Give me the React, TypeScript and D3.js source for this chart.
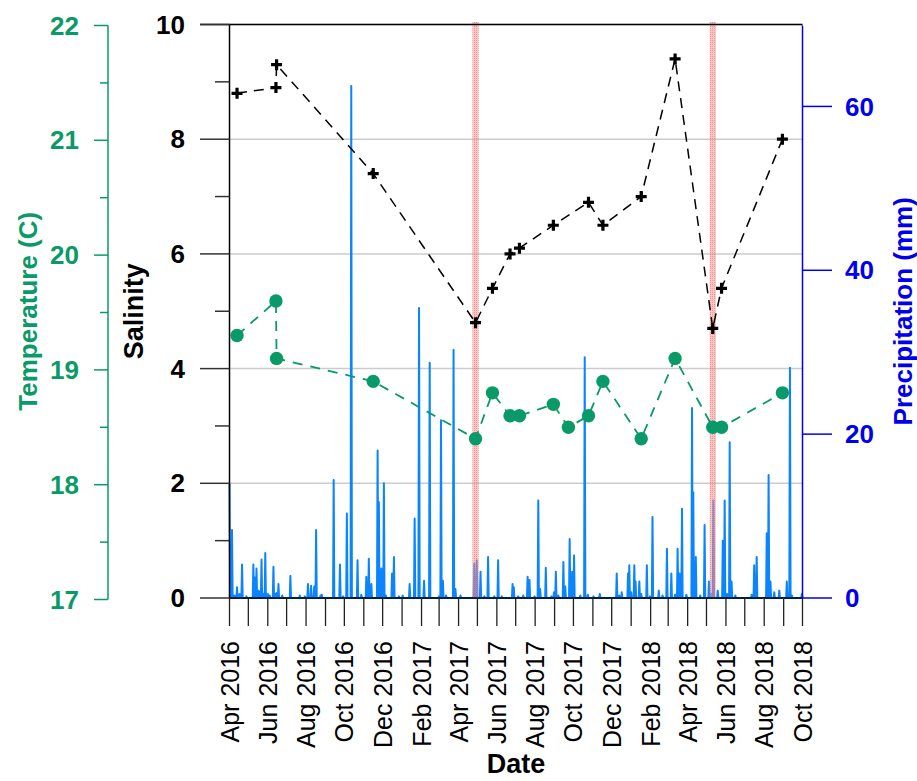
import React from "react";
import * as d3 from "d3";

// ---- data ----
const sampleDatesSal = [
  "2016-04-13", "2016-06-14", "2016-06-15", "2016-11-16", "2017-04-28", "2017-05-25",
  "2017-06-22", "2017-07-07", "2017-08-30", "2017-10-25", "2017-11-17", "2018-01-17",
  "2018-03-12", "2018-05-11", "2018-05-25", "2018-08-30",
];
const salinity = [8.8, 8.9, 9.3, 7.4, 4.8, 5.4, 6.0, 6.1, 6.5, 6.9, 6.5, 7.0, 9.4, 4.7, 5.4, 8.0];

const sampleDatesTemp = [
  "2016-04-13", "2016-06-14", "2016-06-15", "2016-11-16", "2017-04-28", "2017-05-25",
  "2017-06-22", "2017-07-07", "2017-08-30", "2017-09-23", "2017-10-25", "2017-11-17",
  "2018-01-17", "2018-03-12", "2018-05-11", "2018-05-25", "2018-08-30",
];
const temperature = [19.3, 19.6, 19.1, 18.9, 18.4, 18.8, 18.6, 18.6, 18.7, 18.5, 18.6, 18.9, 18.4, 19.1, 18.5, 18.5, 18.8];

// rain events: day offset from 2016-04-01, mm (days not listed had no rain)
const rainDay = [
  0, 4, 8, 12, 16, 20, 27, 38, 40, 43, 46, 48, 51, 54, 57, 61, 64, 70, 73, 75, 78, 84, 97, 112, 120,
  125, 130, 135, 138, 145, 147, 166, 176, 181, 187, 194, 204, 210, 218, 222, 226, 236, 238, 242, 246,
  249, 259, 262, 270, 276, 287, 295, 302, 310, 319, 334, 337, 340, 345, 357, 360, 368, 390, 394, 400,
  406, 412, 422, 428, 434, 451, 453, 460, 468, 475, 478, 486, 492, 495, 504, 513, 517, 520, 524, 532,
  535, 542, 546, 549, 559, 566, 571, 580, 590, 617, 621, 625, 635, 637, 640, 645, 647, 653, 656, 665,
  670, 674, 684, 690, 697, 704, 710, 714, 717, 721, 728, 737, 739, 743, 750, 757, 764, 768, 771, 778,
  786, 789, 793, 797, 800, 806, 832, 836, 840, 856, 859, 862, 868, 876, 888, 893, 896, 912,
];
const rainMm = [
  14.0, 8.3, 0.3, 1.3, 0.5, 4.1, 0.2, 4.1, 2.5, 3.6, 0.9, 0.8, 4.7, 0.5, 5.5, 0.5, 0.3, 3.8, 0.5, 0.6, 1.7, 0.3, 2.7, 0.3, 0.2,
  1.7, 1.5, 1.4, 8.3, 0.3, 0.4, 14.4, 4.1, 0.2, 10.3, 62.5, 4.6, 0.4, 2.6, 4.8, 1.7, 18.0, 11.7, 3.6, 14.0,
  0.3, 3.0, 5.0, 0.2, 0.3, 1.7, 9.7, 35.4, 2.1, 28.7, 0.2, 21.7, 2.1, 0.3, 30.3, 1.1, 0.3, 4.2, 4.6, 3.2,
  0.2, 5.0, 0.2, 4.6, 0.2, 1.7, 1.3, 0.2, 0.3, 2.6, 2.2, 0.2, 11.9, 1.1, 3.7, 0.2, 0.7, 3.2, 0.3, 4.4,
  1.4, 7.2, 3.2, 5.2, 0.3, 29.4, 0.4, 0.2, 0.5, 3.0, 0.3, 0.7, 3.0, 4.0, 0.7, 4.0, 2.0, 2.0, 0.5, 4.0,
  0.2, 9.9, 0.9, 0.3, 6.0, 3.0, 0.4, 6.0, 3.0, 10.9, 0.4, 23.2, 12.9, 5.0, 0.3, 8.9, 2.0, 0.5, 11.9, 0.9,
  7.0, 11.9, 0.5, 19.0, 2.0, 0.3, 0.4, 4.0, 5.0, 7.9, 15.0, 2.0, 0.7, 0.9, 2.0, 28.1, 0.3, 0.5,
];

const bandStarts = ["2017-04-23", "2018-05-06"];
const bandEnds = ["2017-05-03", "2018-05-16"];

const salTicks = [0, 2, 4, 6, 8, 10];
const salMinor = [1, 3, 5, 7, 9];
const tempTicks = [17, 18, 19, 20, 21, 22];
const tempMinor = [17.5, 18.5, 19.5, 20.5, 21.5];
const precTicks = [0, 20, 40, 60];

const startDate = "2016-04-01";
const endDate = "2018-10-01";

// ---- styles ----
const GREEN = "#0a9a68";
const BLUE = "#0000ee";
const RAIN = "#0a84ff";
const FONT = "'Liberation Sans', Arial, sans-serif";

export default function App() {
  const W = 917, H = 781;
  const left = 229.5, right = 802.5, top = 24.5, bottom = 598;
  const parse = d3.timeParse("%Y-%m-%d");
  const t0 = parse(startDate)!, t1 = parse(endDate)!;

  const x = d3.scaleTime().domain([t0, t1]).range([left, right]);
  const ySal = d3.scaleLinear().domain([0, 10]).range([bottom, top]);
  const yTemp = d3.scaleLinear().domain([17, 22]).range([599.5, 25.5]);
  const yPrec = d3.scaleLinear().domain([0, 70]).range([bottom, top]);

  // daily precipitation table built from the event list
  const nDays = d3.timeDay.count(t0, t1);
  const daily = d3.range(nDays + 1).map((d) => ({ date: d3.timeDay.offset(t0, d), v: 0 }));
  rainDay.forEach((d, i) => { if (daily[d]) daily[d].v = rainMm[i]; });

  const rainLine = d3.line<{ date: Date; v: number }>().x((d) => x(d.date)).y((d) => yPrec(d.v));

  const salData = sampleDatesSal.map((d, i) => ({ date: parse(d)!, v: salinity[i] }));
  const tempData = sampleDatesTemp.map((d, i) => ({ date: parse(d)!, v: temperature[i] }));
  const salLine = d3.line<{ date: Date; v: number }>().x((d) => x(d.date)).y((d) => ySal(d.v));
  const tempLine = d3.line<{ date: Date; v: number }>().x((d) => x(d.date)).y((d) => yTemp(d.v));

  const months = d3.timeMonth.range(t0, d3.timeDay.offset(t1, 1));
  const fmt = d3.timeFormat("%b %Y");

  return (
    <svg width={W} height={H} style={{ position: "absolute", left: 0, top: 0, background: "#fff" }} fontFamily={FONT}>
      <defs>
        <pattern id="stip" width="2" height="2" patternUnits="userSpaceOnUse">
          <rect width="2" height="2" fill="rgba(245,150,150,0.55)" />
          <rect width="1" height="1" fill="rgba(230,60,60,0.35)" />
        </pattern>
      </defs>
      {/* gridlines */}
      {salTicks.map((t) => (
        <line key={"g" + t} x1={left} x2={right} y1={ySal(t)} y2={ySal(t)} stroke="#cccccc" strokeWidth={1.5} />
      ))}

      {/* precipitation */}
      <path d={rainLine(daily) || ""} fill="none" stroke={RAIN} strokeWidth={2} strokeLinejoin="round" />

      {/* bands */}
      {bandStarts.map((s, i) => {
        const a = x(parse(s)!), b = x(parse(bandEnds[i])!);
        return <rect key={"b" + i} x={a} y={22} width={b - a} height={bottom - 22} fill="url(#stip)" />;
      })}

      {/* temperature */}
      <path d={tempLine(tempData) || ""} fill="none" stroke={GREEN} strokeWidth={1.8} strokeDasharray="10,8" />
      {tempData.map((d, i) => (
        <circle key={"c" + i} cx={x(d.date)} cy={yTemp(d.v)} r={6.7} fill={GREEN} />
      ))}

      {/* salinity */}
      <path d={salLine(salData) || ""} fill="none" stroke="#000" strokeWidth={1.5} strokeDasharray="10,7" />
      {salData.map((d, i) => (
        <path key={"p" + i} transform={`translate(${x(d.date)},${ySal(d.v)})`} d="M-5.5,0H5.5M0,-5.5V5.5" stroke="#000" strokeWidth={3.2} />
      ))}

      {/* frame */}
      <line x1={200} x2={right} y1={top} y2={top} stroke="#000" strokeWidth={1.5} />
      <line x1={left} x2={left} y1={top} y2={bottom} stroke="#000" strokeWidth={1.5} />
      <line x1={left} x2={right} y1={bottom} y2={bottom} stroke="#000" strokeWidth={1.5} />
      <line x1={right} x2={right} y1={top + 1} y2={bottom} stroke={BLUE} strokeWidth={1.5} />

      {/* salinity axis */}
      {salTicks.map((t) => (
        <g key={"s" + t}>
          <line x1={200} x2={left} y1={ySal(t)} y2={ySal(t)} stroke="#333" strokeWidth={1.5} />
          <text x={185} y={ySal(t)} dy="0.35em" textAnchor="end" fontSize={26} fontWeight="bold" fill="#000">{t}</text>
        </g>
      ))}
      {salMinor.map((t) => (
        <line key={"sm" + t} x1={215} x2={left} y1={ySal(t)} y2={ySal(t)} stroke="#333" strokeWidth={1.5} />
      ))}
      <text transform={`translate(143,${(top + bottom) / 2}) rotate(-90)`} textAnchor="middle" fontSize={27} fontWeight="bold" fill="#000">Salinity</text>

      {/* temperature axis */}
      <line x1={108} x2={108} y1={yTemp(22)} y2={yTemp(17)} stroke={GREEN} strokeWidth={1.5} />
      {tempTicks.map((t) => (
        <g key={"t" + t}>
          <line x1={94} x2={108} y1={yTemp(t)} y2={yTemp(t)} stroke={GREEN} strokeWidth={1.5} />
          <text x={79} y={yTemp(t)} dy="0.35em" textAnchor="end" fontSize={26} fontWeight="bold" fill={GREEN}>{t}</text>
        </g>
      ))}
      {tempMinor.map((t) => (
        <line key={"tm" + t} x1={100} x2={108} y1={yTemp(t)} y2={yTemp(t)} stroke={GREEN} strokeWidth={1.5} />
      ))}
      <text transform={`translate(37,${(top + bottom) / 2}) rotate(-90)`} textAnchor="middle" fontSize={26} fontWeight="bold" fill={GREEN}>Temperature (C)</text>

      {/* precipitation axis */}
      {precTicks.map((t) => (
        <g key={"r" + t}>
          <line x1={right} x2={832} y1={yPrec(t)} y2={yPrec(t)} stroke={BLUE} strokeWidth={1.5} />
          <text x={845} y={yPrec(t)} dy="0.35em" textAnchor="start" fontSize={26} fontWeight="bold" fill={BLUE}>{t}</text>
        </g>
      ))}
      <text transform={`translate(912,${(top + bottom) / 2}) rotate(-90)`} textAnchor="middle" fontSize={26} fontWeight="bold" fill={BLUE}>Precipitation (mm)</text>

      {/* x axis */}
      {months.map((m, i) => (
        <g key={"m" + i}>
          <line x1={x(m)} x2={x(m)} y1={bottom} y2={626} stroke="#222" strokeWidth={1.3} />
          {i % 2 === 0 && (
            <text transform={`translate(${x(m)},641) rotate(-90)`} dy="0.36em" textAnchor="end" fontSize={25} fill="#000">{fmt(m)}</text>
          )}
        </g>
      ))}
      <text x={(left + right) / 2} y={773} textAnchor="middle" fontSize={27} fontWeight="bold" fill="#000">Date</text>
    </svg>
  );
}
